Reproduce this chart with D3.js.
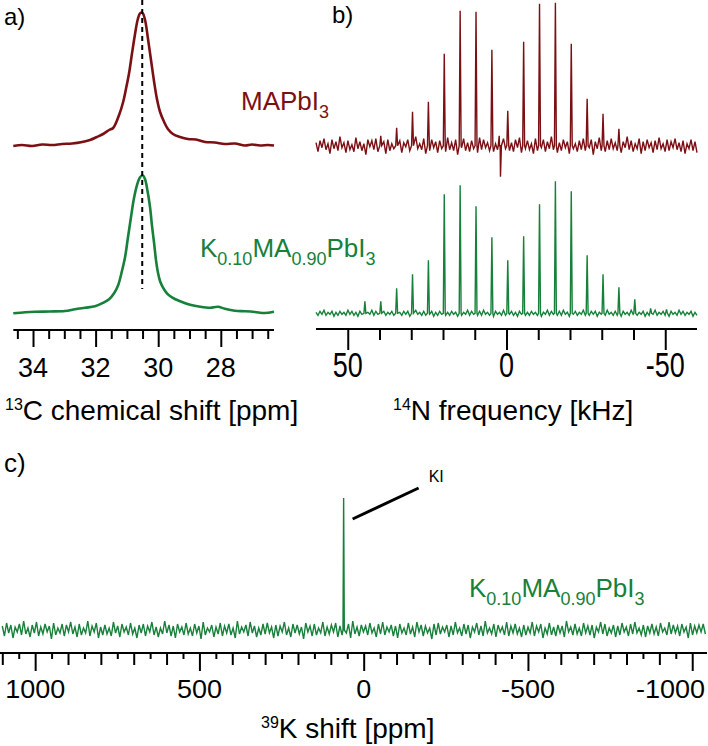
<!DOCTYPE html>
<html>
<head>
<meta charset="utf-8">
<script src="https://cdn.jsdelivr.net/npm/d3@7"></script>
<style>
  body { margin: 0; background: #fff; }
  text { font-family: "Liberation Sans", Arial, sans-serif; }
</style>
</head>
<body>
<script>
// ---- data ----
// panel a: 13C spectra (ppm, intensity)
var aRedPpm = [34.63,34.35,34.03,33.71,33.39,33.07,32.75,32.43,32.18,31.96,31.76,31.57,31.44,31.25,31.12,31.03,30.93,30.84,30.74,30.65,30.57,30.50,30.42,30.33,30.23,30.13,30.04,29.94,29.81,29.69,29.53,29.30,29.05,28.79,28.50,28.19,27.87,27.55,27.23,27.00,26.75,26.49,26.30];
var aRedInt = [0,1,0,1.5,1,2,2.5,4,6,9,12,16,18,31,44,57,73,92,112,127,133,133,126,108,86,64,47,34,24,17,12,9,7,6.5,4,3.5,2,2.5,0.5,1.5,0.5,1,0.5];
var aGreenPpm = [34.63,34.25,33.94,33.46,32.98,32.66,32.34,32.02,31.76,31.57,31.41,31.28,31.16,31.06,30.97,30.87,30.78,30.68,30.58,30.50,30.42,30.34,30.26,30.20,30.13,30.07,30.01,29.94,29.85,29.72,29.56,29.30,28.98,28.66,28.34,28.09,27.87,27.55,27.23,26.91,26.60,26.30];
var aGreenInt = [0,1,1.5,1.8,2.3,4,5.5,7,10.5,14,20,28,42,56,75,96,114,128,136,138,134,122,106,88,70,53,41,32,26,20,16,12,8.5,6.5,5.5,6.5,4.5,2.5,2,1.3,0.3,1.6];
var aPeakPpm = 30.51;
var aTicksMajor = [34, 32, 30, 28];
var aTicksMinor = [34.5,33.5,33,32.5,31.5,31,30.5,29.5,29,28.5,27.5,27,26.5];

// panel b: 14N spinning sidebands (kHz)
var bPeakKHz = [44.6,39.6,34.6,29.6,24.6,19.6,14.6,9.6,4.6,-0.4,-5.4,-10.4,-15.4,-20.4,-25.4,-30.4,-35.4,-40.4,-45.4,-50.4];
var bRedH = [0,10,18,34,44,92,135,134,96,35,104,142,143,102,47,32,17,0,0,0];
var bGreenH = [12,12,25,39,53,119,128,107,76,53,77,109,132,122,58,39,26,14,5,4];
var bRedGlitchKHz = [2.3, 1.9];
var bRedGlitchH = [10, -31];
var bRedNoise = [3,-6,5,-2,7,-4,2,-8,6,-3,4,-5,9,-2,3,-7,5,-4,1,-6,8,-3,4,-5,2,-9,6,-1,5,-4,
  7,-6,3,-2,4,-8,6,-5,2,-3,8,-4,5,-7,3,-1,6,-5,4,-6,9,-3,2,-4,7,-8,3,-5,6,-2,
  4,-7,5,-3,2,-6,8,-4,3,-5,6,-9,4,-2,7,-5,3,-6,5,-3,2,-7,8,-4,6,-2,3,-5,9,-6,
  2,-4,5,-8,7,-3,4,-5,3,-6,6,-2,8,-7,4,-3,5,-4,2,-8,7,-5,3,-2,6,-6,4,-3,9,-4,
  5,-7,3,-5,6,-2,4,-8,8,-3,2,-6,5,-4,7,-5,3,-2,6,-9,4,-3,8,-5,2,-6,5,-4,7,-3,
  3,-5,6,-7,4,-2,9,-4,5,-6,2,-3,7,-8,4,-5,6,-2,3,-7,5,-4,8,-3,2,-6,6,-5,4,-2,
  7,-4,3,-6,5,-8,2,-3,6,-5,4,-7];
var bGreenNoise = [1,-2,2,-1,3,-2,1,-1,2,-3,1,-2,2,-1,1,-2,3,-1,2,-2,1,-3,2,-1,2,-2,1,-1,3,-2,
  2,-1,1,-3,2,-2,1,-1,2,-2,3,-1,1,-2,2,-1,2,-3,1,-2,3,-1,1,-2,2,-2,1,-1,2,-3,
  1,-2,2,-1,3,-2,1,-2,2,-1,1,-3,2,-2,1,-1,3,-2,2,-1,1,-2,2,-2,3,-1,1,-2,2,-3,
  2,-1,1,-2,3,-2,1,-1,2,-2,1,-3,2,-1,3,-2,1,-2,2,-1,1,-2,2,-3,1,-1,3,-2,2,-1,
  1,-2,2,-2,3,-1,1,-3,2,-1,2,-2,1,-1,3,-2,1,-2,2,-1,2,-3,1,-1,2,-2,3,-1,1,-2,
  2,-2,1,-3,2,-1,1,-2,3,-1,2,-2,1,-1,2,-3,1,-2,2,-1,3,-2,1,-1,2,-2,1,-3,2,-1,
  1,-2,3,-1,2,-2,1,-1,2,-3,1,-2];
var bTicksMajor = [50, 0, -50];
var bTicksMinor = [40, 30, 20, 10, -10, -20, -30, -40];

// panel c: 39K spectrum (ppm)
var cPeakPpm = 61;
var cPeakH = 132;
var cNoise = [4,-6,7,-3,5,-8,3,-2,6,-5,9,-4,2,-7,5,-3,8,-6,3,-4,6,-2,4,-9,7,-5,2,-3,6,-6,
  5,-2,8,-4,3,-7,6,-5,2,-3,9,-6,4,-2,7,-8,3,-5,5,-4,2,-6,8,-3,4,-7,6,-2,3,-5,
  7,-4,2,-8,5,-3,6,-6,4,-2,8,-5,3,-7,2,-4,9,-3,5,-6,4,-8,6,-2,3,-5,7,-4,2,-6,
  6,-3,4,-9,8,-5,2,-2,5,-7,3,-4,7,-6,4,-3,6,-5,2,-8,9,-4,3,-2,5,-6,8,-3,4,-7,
  2,-5,6,-4,7,-3,3,-8,5,-6,4,-2,8,-5,2,-7,6,-3,5,-4,3,-9,7,-2,4,-6,6,-5,2,-3,
  8,-6,3,-4,5,-2,7,-7,4,-5,2,-3,6,-8,9,-4,3,-6,5,-2,4,-5,7,-3,2,-7,6,-4,8,-5,
  3,-2,5,-6,4,-8,6,-3,2,-5,7,-4,3,-7,8,-2,5,-6,4,-3,2,-9,6,-5,7,-4,3,-2,5,-7,
  4,-5,8,-3,2,-6,6,-4,5,-8,3,-2,7,-5,4,-6,9,-3,2,-4,6,-7,5,-2,3,-5,8,-6,4,-3,
  6,-4,2,-7,5,-5,3,-3,8,-6,4,-2,6,-8,2,-4,7,-5,3,-6,5,-3,4,-7,9,-2,3,-5,6,-4,
  2,-6,7,-3,4,-5,5,-8,3,-2,8,-4,6,-6,2,-3,5,-7,4,-5,7,-2,3,-6,6,-4,8,-3,2,-5,
  5,-7,4,-3,6,-4,3,-6,7,-2,2,-5,8,-4,5,-3,4,-6,6,-2,3,-8,7,-5,4,-3,5,-2,6,-4];
var cTicksLong = [1000, 500, 0, -500, -1000];
var cTicksMid = [1100,900,800,700,600,400,300,200,100,-100,-200,-300,-400,-600,-700,-800,-900];
var cTicksShort = [1050,950,850,750,650,550,450,350,250,150,50,-50,-150,-250,-350,-450,-550,-650,-750,-850,-950];

var red = "#7b1014";
var green = "#17803a";

var svg = d3.select("body").append("svg")
            .attr("width", 708)
            .attr("height", 746);

// scales
var xA = d3.scaleLinear().domain([34.63, 26.3]).range([13.3, 274]);
var xB = d3.scaleLinear().domain([60, -60]).range([316, 697]);
var xC = d3.scaleLinear().domain([1107, -1045]).range([0, 707]);

function yOffset(base) { // intensity units are figure pixels above the baseline
  return d3.scaleLinear().domain([0, 100]).range([base, base - 100]);
}

// build a trace from the noise samples plus the listed peaks
function spikeTrace(noise, d0, d1, pos, h, half) {
  var pts = [];
  noise.forEach(function(v, i) {
    var x = d0 + (d1 - d0) * i / (noise.length - 1);
    var near = pos.some(function(p, k) { return h[k] != 0 && Math.abs(p - x) < half * 1.3; });
    if (!near) pts.push([x, v]);
  });
  pos.forEach(function(p, k) {
    if (h[k] == 0) return;
    pts.push([p + half, 0], [p, h[k]], [p - half, 0]);
  });
  pts.sort(function(a, b) { return b[0] - a[0]; });
  return pts;
}

function label(x, y, parts, size, subSize, color) {
  var t = svg.append("text").attr("x", x).attr("y", y).style("fill", color).style("font-size", size + "px");
  var shift = 0;
  parts.forEach(function(p) {
    t.append("tspan").text(p[0]).attr("dy", p[1] - shift).style("font-size", (p[1] == 0 ? size : subSize) + "px");
    shift = p[1];
  });
  return t;
}

function ticks(scale, y, vals, len) {
  svg.append("g").attr("transform", "translate(0," + y + ")")
     .call(d3.axisBottom(scale).tickValues(vals).tickSize(len).tickSizeOuter(0).tickFormat(""))
     .call(function(g) { g.select(".domain").remove(); })
     .selectAll("line").style("stroke", "#000").style("stroke-width", 2);
}

function axisLine(scale, y) {
  var r = scale.range();
  svg.append("line").attr("x1", r[0]).attr("x2", r[1]).attr("y1", y).attr("y2", y)
     .style("stroke", "#000").style("stroke-width", 2);
}

// labels too close to the right edge are right-aligned at the edge
function tickLabels(scale, vals, y, size, sy) {
  var edge = 705;
  svg.selectAll(null).data(vals).enter().append("text")
     .attr("transform", function(d) {
       var x = scale(d) > edge - 30 ? edge : scale(d);
       return "translate(" + x + "," + y + ") scale(1," + sy + ")";
     })
     .attr("text-anchor", function(d) { return scale(d) > edge - 30 ? "end" : "middle"; })
     .style("font-size", size + "px")
     .text(function(d) { return d; });
}

// ---- panel a ----
var yARed = yOffset(146);
var yAGreen = yOffset(313.3);
var lineA = function(ys) {
  return d3.line().x(function(d) { return xA(d[0]); }).y(function(d) { return ys(d[1]); }).curve(d3.curveCatmullRom);
};
svg.append("path").datum(aRedPpm.map(function(p, i) { return [p, aRedInt[i]]; }))
   .attr("d", lineA(yARed)).style("fill", "none").style("stroke", red).style("stroke-width", 2.6);
svg.append("path").datum(aGreenPpm.map(function(p, i) { return [p, aGreenInt[i]]; }))
   .attr("d", lineA(yAGreen)).style("fill", "none").style("stroke", green).style("stroke-width", 2.6);
svg.append("line").attr("x1", xA(aPeakPpm)).attr("x2", xA(aPeakPpm)).attr("y1", 0).attr("y2", 289)
   .style("stroke", "#000").style("stroke-width", 2).style("stroke-dasharray", "5,4");

axisLine(xA, 330);
ticks(xA, 330, aTicksMinor, 9);
ticks(xA, 330, aTicksMajor, 17);
tickLabels(xA, aTicksMajor, 376.5, 27, 1);

// ---- panel b ----
var yBRed = yOffset(145.7);
var yBGreen = yOffset(313.3);
var lineB = function(ys) {
  return d3.line().x(function(d) { return xB(d[0]); }).y(function(d) { return ys(d[1]); });
};
var redPts = spikeTrace(bRedNoise, 60, -60, bPeakKHz.concat(bRedGlitchKHz), bRedH.concat(bRedGlitchH), 0.3);
var greenPts = spikeTrace(bGreenNoise, 60, -60, bPeakKHz, bGreenH, 0.3);
svg.append("path").datum(redPts).attr("d", lineB(yBRed))
   .style("fill", "none").style("stroke", red).style("stroke-width", 1.4);
svg.append("path").datum(greenPts).attr("d", lineB(yBGreen))
   .style("fill", "none").style("stroke", green).style("stroke-width", 1.4);

axisLine(xB, 329);
ticks(xB, 329, bTicksMinor, 11);
ticks(xB, 329, bTicksMajor, 21);
tickLabels(xB, bTicksMajor, 377, 27, 1.3);

// ---- panel c ----
var yC = yOffset(630);
var cPts = spikeTrace(cNoise, 1100, -1040, [cPeakPpm], [cPeakH], 2);
svg.append("path").datum(cPts)
   .attr("d", d3.line().x(function(d) { return xC(d[0]); }).y(function(d) { return yC(d[1]); }))
   .style("fill", "none").style("stroke", green).style("stroke-width", 1.4);

axisLine(xC, 653);
ticks(xC, 653, cTicksShort, 6);
ticks(xC, 653, cTicksMid, 12);
ticks(xC, 653, cTicksLong, 18);
tickLabels(xC, cTicksLong, 698, 27, 0.93);

// KI annotation
svg.append("line")
   .attr("x1", xC(cPeakPpm) + 9).attr("y1", 519)
   .attr("x2", xC(cPeakPpm) + 75).attr("y2", 488)
   .style("stroke", "#000").style("stroke-width", 3);
svg.append("text").attr("x", xC(cPeakPpm) + 85).attr("y", 482).style("font-size", "16px").text("KI");

// ---- labels ----
svg.append("text").attr("x", 4).attr("y", 25).style("font-size", "24px").text("a)");
svg.append("text").attr("x", 332).attr("y", 23).style("font-size", "24px").text("b)");
svg.append("text").attr("x", 4).attr("y", 472).style("font-size", "26px").text("c)");

label(241, 110, [["MAPbI", 0], ["3", 8]], 26, 18, red);
label(200, 257, [["K", 0], ["0.10", 8], ["MA", 0], ["0.90", 8], ["PbI", 0], ["3", 8]], 26, 18, green);
label(469, 597, [["K", 0], ["0.10", 8], ["MA", 0], ["0.90", 8], ["PbI", 0], ["3", 8]], 26, 18, green);

label(5, 420, [["13", -10], ["C chemical shift [ppm]", 0]], 28, 16, "#000");
label(393, 420, [["14", -10], ["N frequency [kHz]", 0]], 28, 16, "#000");
label(261, 738, [["39", -10], ["K shift [ppm]", 0]], 28, 16, "#000");
</script>
</body>
</html>
